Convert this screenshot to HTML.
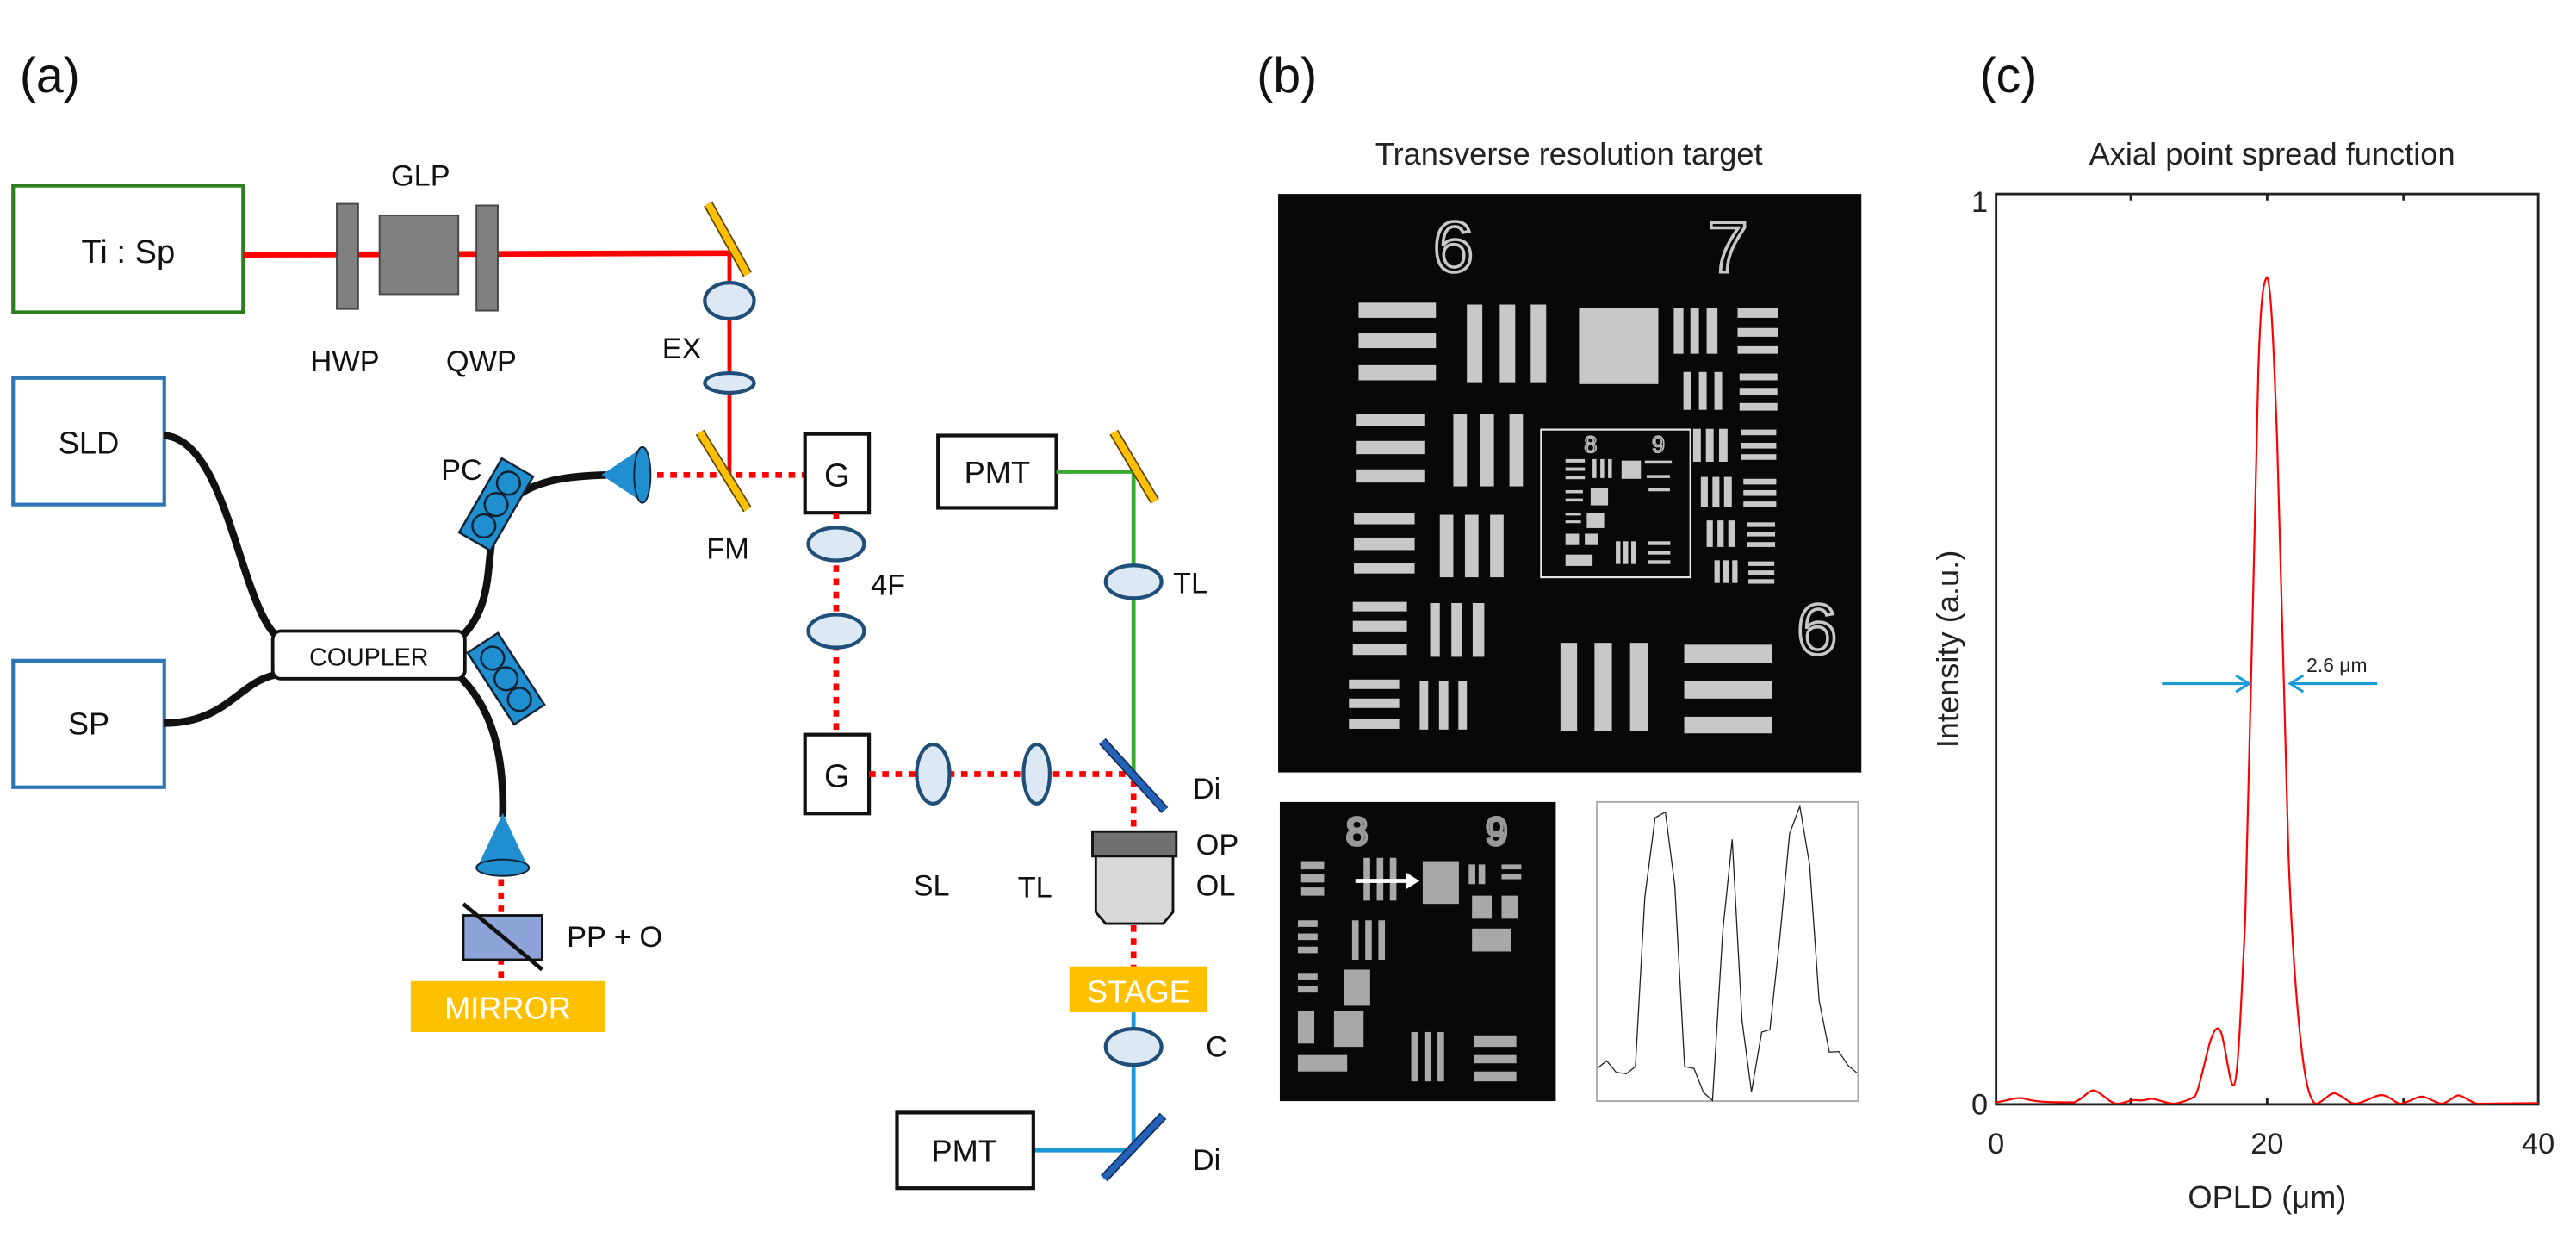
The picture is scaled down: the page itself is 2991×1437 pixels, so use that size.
<!DOCTYPE html>
<html><head><meta charset="utf-8"><style>
html,body{margin:0;padding:0;background:#fff;}
svg{display:block;}
text{font-family:"Liberation Sans","DejaVu Sans",sans-serif;}
</style></head><body>
<svg width="2991" height="1437" viewBox="0 0 1568 753.3" xmlns="http://www.w3.org/2000/svg">
<rect width="1568" height="754" fill="#fff"/>
<!-- ===== Panel a ===== -->
<text x="12" y="56" font-size="30" fill="#111">(a)</text>
<rect x="8" y="113" width="140" height="77" fill="none" stroke="#2e7d1e" stroke-width="2.2"/>
<text x="78" y="160" font-size="20" text-anchor="middle" fill="#111">Ti : Sp</text>
<line x1="148" y1="155" x2="444" y2="154" stroke="#ff0000" stroke-width="3.5"/>
<rect x="205" y="124" width="13" height="64" fill="#808080" stroke="#444" stroke-width="1"/>
<rect x="231" y="131" width="48" height="48" fill="#808080" stroke="#444" stroke-width="1"/>
<rect x="290" y="125" width="13" height="64" fill="#808080" stroke="#444" stroke-width="1"/>
<text x="256" y="113" font-size="18" text-anchor="middle" fill="#111">GLP</text>
<text x="210" y="226" font-size="18" text-anchor="middle" fill="#111">HWP</text>
<text x="293" y="226" font-size="18" text-anchor="middle" fill="#111">QWP</text>
<line x1="444" y1="154" x2="444" y2="289" stroke="#ff0000" stroke-width="2.5"/>
<line x1="431" y1="124" x2="455" y2="167" stroke="#5a4300" stroke-width="6"/>
<line x1="431" y1="124" x2="455" y2="167" stroke="#ffc000" stroke-width="4.2"/>
<ellipse cx="444" cy="183" rx="15" ry="11" fill="#dce9f5" stroke="#1f4e79" stroke-width="2.2"/>
<ellipse cx="444" cy="233" rx="15" ry="6" fill="#dce9f5" stroke="#1f4e79" stroke-width="2.2"/>
<text x="415" y="218" font-size="18" text-anchor="middle" fill="#111">EX</text>
<line x1="392" y1="289" x2="490" y2="289" stroke="#ff0000" stroke-width="3.5" stroke-dasharray="4,4"/>
<line x1="426" y1="263" x2="455" y2="310" stroke="#5a4300" stroke-width="6"/>
<line x1="426" y1="263" x2="455" y2="310" stroke="#ffc000" stroke-width="4.2"/>
<text x="443" y="340" font-size="18" text-anchor="middle" fill="#111">FM</text>
<rect x="490" y="264" width="39" height="48" fill="#fff" stroke="#111" stroke-width="2.2"/>
<text x="509.5" y="296" font-size="20" text-anchor="middle" fill="#111">G</text>
<line x1="509" y1="312" x2="509" y2="447" stroke="#ff0000" stroke-width="3.5" stroke-dasharray="4,4"/>
<ellipse cx="509" cy="331" rx="17" ry="10" fill="#dce9f5" stroke="#1f4e79" stroke-width="2.2"/>
<ellipse cx="509" cy="384" rx="17" ry="10" fill="#dce9f5" stroke="#1f4e79" stroke-width="2.2"/>
<text x="530" y="362" font-size="18" fill="#111">4F</text>
<rect x="490" y="447" width="39" height="48" fill="#fff" stroke="#111" stroke-width="2.2"/>
<text x="509.5" y="479" font-size="20" text-anchor="middle" fill="#111">G</text>
<line x1="529" y1="471" x2="690" y2="471" stroke="#ff0000" stroke-width="3.5" stroke-dasharray="4,4"/>
<ellipse cx="568" cy="471" rx="10" ry="18" fill="#dce9f5" stroke="#1f4e79" stroke-width="2.2"/>
<ellipse cx="631" cy="471" rx="8" ry="18" fill="#dce9f5" stroke="#1f4e79" stroke-width="2.2"/>
<text x="567" y="545" font-size="18" text-anchor="middle" fill="#111">SL</text>
<text x="630" y="546" font-size="18" text-anchor="middle" fill="#111">TL</text>
<rect x="571" y="265" width="72" height="44" fill="#fff" stroke="#111" stroke-width="2.2"/>
<text x="607" y="294" font-size="19" text-anchor="middle" fill="#111">PMT</text>
<line x1="643" y1="287" x2="690" y2="287" stroke="#3aaa35" stroke-width="2.5"/>
<line x1="690" y1="287" x2="690" y2="471" stroke="#3aaa35" stroke-width="2.5"/>
<line x1="678" y1="263" x2="703" y2="305" stroke="#5a4300" stroke-width="6"/>
<line x1="678" y1="263" x2="703" y2="305" stroke="#ffc000" stroke-width="4.2"/>
<ellipse cx="690" cy="354" rx="17" ry="10" fill="#dce9f5" stroke="#1f4e79" stroke-width="2.2"/>
<text x="714" y="361" font-size="18" fill="#111">TL</text>
<line x1="690" y1="475" x2="690" y2="506" stroke="#ff0000" stroke-width="3.5" stroke-dasharray="4,4"/>
<line x1="671" y1="451" x2="709" y2="493" stroke="#0f2a55" stroke-width="5.5"/>
<line x1="671" y1="451" x2="709" y2="493" stroke="#2461b8" stroke-width="3.8"/>
<text x="726" y="486" font-size="18" fill="#111">Di</text>
<rect x="665" y="506" width="51" height="15" fill="#707070" stroke="#111" stroke-width="1.5"/>
<path d="M667,521 L714,521 L714,555 L708,562 L673,562 L667,555 Z" fill="#d9d9d9" stroke="#111" stroke-width="1.5"/>
<text x="728" y="520" font-size="18" fill="#111">OP</text>
<text x="728" y="545" font-size="18" fill="#111">OL</text>
<line x1="690" y1="563" x2="690" y2="588" stroke="#ff0000" stroke-width="3.5" stroke-dasharray="4,4"/>
<rect x="651" y="588" width="84" height="28" fill="#ffc000"/>
<text x="693" y="610" font-size="19" text-anchor="middle" fill="#fff">STAGE</text>
<line x1="690" y1="616" x2="690" y2="701" stroke="#1a9ad6" stroke-width="2.5"/>
<ellipse cx="690" cy="637" rx="17" ry="11" fill="#dce9f5" stroke="#1f4e79" stroke-width="2.2"/>
<text x="734" y="643" font-size="18" fill="#111">C</text>
<line x1="628" y1="700" x2="690" y2="700" stroke="#1a9ad6" stroke-width="2.5"/>
<line x1="672" y1="717" x2="708" y2="679" stroke="#0f2a55" stroke-width="5.5"/>
<line x1="672" y1="717" x2="708" y2="679" stroke="#2461b8" stroke-width="3.8"/>
<text x="726" y="712" font-size="18" fill="#111">Di</text>
<rect x="546" y="677" width="83" height="46" fill="#fff" stroke="#111" stroke-width="2.2"/>
<text x="587" y="707" font-size="19" text-anchor="middle" fill="#111">PMT</text>
<rect x="8" y="230" width="92" height="77" fill="none" stroke="#2e75b6" stroke-width="2.2"/>
<text x="54" y="276" font-size="19" text-anchor="middle" fill="#111">SLD</text>
<rect x="8" y="402" width="92" height="77" fill="none" stroke="#2e75b6" stroke-width="2.2"/>
<text x="54" y="447" font-size="19" text-anchor="middle" fill="#111">SP</text>
<g fill="none" stroke="#111" stroke-width="4.5">
<path d="M100,265 C140,268 146,375 172,390"/>
<path d="M100,440 C140,440 146,412 172,410"/>
<path d="M278,390 C300,372 296,345 300,325 C308,295 335,290 369,289"/>
<path d="M278,410 C300,430 307,460 306,497"/>
</g>
<rect x="166" y="384" width="117" height="29" rx="5" fill="#fff" stroke="#111" stroke-width="2"/>
<text x="224.5" y="405" font-size="15" text-anchor="middle" fill="#111">COUPLER</text>
<g transform="translate(302,307) rotate(30)">
<rect x="-11" y="-26" width="22" height="52" fill="#1f8fd0" stroke="#123" stroke-width="1.3"/>
<circle cx="0" cy="-15" r="7" fill="#1f8fd0" stroke="#123" stroke-width="1.3"/>
<circle cx="0" cy="0" r="7" fill="#1f8fd0" stroke="#123" stroke-width="1.3"/>
<circle cx="0" cy="15" r="7" fill="#1f8fd0" stroke="#123" stroke-width="1.3"/>
</g>
<text x="281" y="292" font-size="18" text-anchor="middle" fill="#111">PC</text>
<g transform="translate(308,413) rotate(-33)">
<rect x="-11" y="-26" width="22" height="52" fill="#1f8fd0" stroke="#123" stroke-width="1.3"/>
<circle cx="0" cy="-15" r="7" fill="#1f8fd0" stroke="#123" stroke-width="1.3"/>
<circle cx="0" cy="0" r="7" fill="#1f8fd0" stroke="#123" stroke-width="1.3"/>
<circle cx="0" cy="15" r="7" fill="#1f8fd0" stroke="#123" stroke-width="1.3"/>
</g>
<path d="M367,289 L391,273 L391,305 Z" fill="#1f8fd0" stroke="#1f8fd0"/>
<ellipse cx="391" cy="289" rx="5" ry="17" fill="#1f8fd0" stroke="#123" stroke-width="1"/>
<path d="M306,496 L291,528 L321,528 Z" fill="#1f8fd0" stroke="#1f8fd0"/>
<ellipse cx="306" cy="528" rx="16" ry="5" fill="#1f8fd0" stroke="#123" stroke-width="1"/>
<line x1="305" y1="535" x2="305" y2="597" stroke="#ff0000" stroke-width="3.5" stroke-dasharray="4,4"/>
<rect x="282" y="557" width="48" height="27" fill="#8ea3d8" stroke="#111" stroke-width="1.5"/>
<line x1="282" y1="550" x2="330" y2="590" stroke="#111" stroke-width="2.5"/>
<text x="345" y="576" font-size="18" fill="#111">PP + O</text>
<rect x="250" y="597" width="118" height="31" fill="#ffc000"/>
<text x="309" y="620" font-size="19" text-anchor="middle" fill="#fff">MIRROR</text>

<!-- ===== Panel b ===== -->
<text x="765" y="56" font-size="30" fill="#111">(b)</text>
<text x="955" y="100" font-size="19" text-anchor="middle" fill="#222">Transverse resolution target</text>
<rect x="778" y="118" width="355" height="352" fill="#080808"/>
<g transform="translate(778,118) scale(0.2354,0.2305) translate(-12,-18)" fill="#c8c8c8">
<text x="465" y="222" font-size="190" text-anchor="middle" fill="none" stroke="#c8c8c8" stroke-width="8">6</text>
<text x="1175" y="225" font-size="190" text-anchor="middle" fill="none" stroke="#c8c8c8" stroke-width="8">7</text>
<text x="1405" y="1232" font-size="190" text-anchor="middle" fill="none" stroke="#c8c8c8" stroke-width="8">6</text>
<rect x="220" y="305" width="200" height="40"/><rect x="220" y="385" width="200" height="40"/><rect x="220" y="470" width="200" height="40"/>
<rect x="500" y="310" width="40" height="205"/><rect x="585" y="310" width="40" height="205"/><rect x="665" y="310" width="40" height="205"/>
<rect x="790" y="318" width="205" height="202"/>
<rect x="1035" y="320" width="25" height="120"/><rect x="1078" y="320" width="22" height="120"/><rect x="1120" y="320" width="28" height="120"/>
<rect x="1200" y="320" width="105" height="25"/><rect x="1200" y="372" width="105" height="23"/><rect x="1200" y="420" width="105" height="20"/>
<rect x="1060" y="488" width="20" height="100"/><rect x="1100" y="488" width="20" height="100"/><rect x="1140" y="488" width="20" height="100"/>
<rect x="1205" y="492" width="98" height="18"/><rect x="1205" y="530" width="98" height="20"/><rect x="1205" y="570" width="98" height="20"/>
<rect x="1085" y="638" width="20" height="87"/><rect x="1118" y="638" width="20" height="87"/><rect x="1152" y="638" width="22" height="87"/>
<rect x="1210" y="640" width="90" height="15"/><rect x="1210" y="675" width="90" height="15"/><rect x="1210" y="705" width="90" height="15"/>
<rect x="1105" y="765" width="18" height="80"/><rect x="1135" y="765" width="18" height="80"/><rect x="1165" y="765" width="20" height="80"/>
<rect x="1215" y="770" width="85" height="15"/><rect x="1215" y="800" width="85" height="15"/><rect x="1215" y="830" width="85" height="15"/>
<rect x="1120" y="880" width="16" height="70"/><rect x="1148" y="880" width="16" height="70"/><rect x="1176" y="880" width="18" height="70"/>
<rect x="1225" y="885" width="72" height="12"/><rect x="1225" y="910" width="72" height="12"/><rect x="1225" y="937" width="72" height="13"/>
<rect x="1140" y="985" width="14" height="60"/><rect x="1163" y="985" width="14" height="60"/><rect x="1186" y="985" width="14" height="60"/>
<rect x="1228" y="988" width="67" height="12"/><rect x="1228" y="1012" width="67" height="12"/><rect x="1228" y="1035" width="67" height="12"/>
<rect x="215" y="600" width="175" height="30"/><rect x="215" y="670" width="175" height="35"/><rect x="215" y="745" width="175" height="35"/>
<rect x="465" y="600" width="35" height="190"/><rect x="535" y="600" width="35" height="190"/><rect x="610" y="600" width="35" height="190"/>
<rect x="208" y="860" width="157" height="30"/><rect x="208" y="925" width="157" height="33"/><rect x="208" y="992" width="157" height="28"/>
<rect x="430" y="865" width="35" height="165"/><rect x="495" y="865" width="35" height="165"/><rect x="560" y="865" width="35" height="165"/>
<rect x="205" y="1095" width="140" height="25"/><rect x="205" y="1145" width="140" height="30"/><rect x="205" y="1205" width="140" height="30"/>
<rect x="405" y="1098" width="25" height="142"/><rect x="460" y="1098" width="28" height="142"/><rect x="515" y="1098" width="30" height="142"/>
<rect x="195" y="1300" width="130" height="25"/><rect x="195" y="1350" width="130" height="25"/><rect x="195" y="1405" width="130" height="25"/>
<rect x="378" y="1305" width="22" height="127"/><rect x="428" y="1305" width="24" height="127"/><rect x="478" y="1305" width="22" height="127"/>
<rect x="742" y="1203" width="43" height="232"/><rect x="830" y="1203" width="45" height="232"/><rect x="922" y="1203" width="46" height="232"/>
<rect x="1062" y="1208" width="226" height="47"/><rect x="1062" y="1305" width="226" height="45"/><rect x="1062" y="1398" width="226" height="44"/>
<rect x="692" y="640" width="386" height="390" fill="none" stroke="#e8e8e8" stroke-width="5"/>
<text x="820" y="700" font-size="60" text-anchor="middle" fill="none" stroke="#bbb" stroke-width="4">8</text>
<text x="995" y="700" font-size="60" text-anchor="middle" fill="none" stroke="#bbb" stroke-width="4">9</text>
<rect x="755" y="718" width="50" height="9"/><rect x="755" y="740" width="50" height="9"/><rect x="755" y="762" width="50" height="9"/>
<rect x="825" y="718" width="10" height="50"/><rect x="845" y="718" width="10" height="50"/><rect x="865" y="718" width="10" height="50"/>
<rect x="900" y="722" width="50" height="48"/>
<rect x="960" y="722" width="70" height="8"/><rect x="965" y="760" width="60" height="8"/><rect x="970" y="795" width="55" height="8"/>
<rect x="755" y="800" width="45" height="8"/><rect x="755" y="822" width="45" height="8"/><rect x="820" y="795" width="45" height="45"/>
<rect x="755" y="860" width="40" height="7"/><rect x="755" y="880" width="40" height="7"/><rect x="810" y="860" width="45" height="40"/>
<rect x="755" y="915" width="35" height="30"/><rect x="805" y="915" width="35" height="30"/>
<rect x="755" y="970" width="70" height="30"/>
<rect x="885" y="935" width="12" height="60"/><rect x="905" y="935" width="12" height="60"/><rect x="925" y="935" width="12" height="60"/>
<rect x="968" y="935" width="58" height="10"/><rect x="968" y="960" width="58" height="10"/><rect x="968" y="985" width="58" height="10"/>
</g>
<rect x="779" y="488" width="168" height="182" fill="#080808"/>
<g fill="#a8a8a8">
<text x="826" y="514" font-size="24" text-anchor="middle" fill="none" stroke="#999" stroke-width="2">8</text>
<text x="911" y="514" font-size="24" text-anchor="middle" fill="none" stroke="#999" stroke-width="2">9</text>
<rect x="792" y="524" width="14" height="5"/><rect x="792" y="532" width="14" height="5"/><rect x="792" y="540" width="14" height="5"/>
<rect x="830" y="522" width="4" height="26"/><rect x="838" y="522" width="4" height="26"/><rect x="846" y="522" width="4" height="26"/>
<rect x="866" y="524" width="22" height="26"/>
<rect x="894" y="526" width="4" height="12"/><rect x="900" y="526" width="4" height="12"/><rect x="914" y="526" width="12" height="3"/><rect x="914" y="532" width="12" height="3"/>
<rect x="896" y="545" width="12" height="14"/><rect x="914" y="545" width="10" height="14"/>
<rect x="896" y="565" width="24" height="14"/>
<rect x="790" y="560" width="12" height="4"/><rect x="790" y="568" width="12" height="4"/><rect x="790" y="576" width="12" height="4"/>
<rect x="823" y="560" width="4" height="24"/><rect x="831" y="560" width="4" height="24"/><rect x="839" y="560" width="4" height="24"/>
<rect x="790" y="592" width="12" height="4"/><rect x="790" y="600" width="12" height="4"/><rect x="818" y="590" width="16" height="22"/>
<rect x="790" y="615" width="10" height="20"/><rect x="812" y="615" width="18" height="22"/>
<rect x="790" y="642" width="30" height="10"/>
<rect x="859" y="628" width="4" height="30"/><rect x="867" y="628" width="4" height="30"/><rect x="875" y="628" width="4" height="30"/>
<rect x="897" y="630" width="26" height="7"/><rect x="897" y="642" width="26" height="5"/><rect x="897" y="652" width="26" height="6"/>
</g>
<line x1="825" y1="536" x2="858" y2="536" stroke="#fff" stroke-width="2.5"/>
<path d="M856,531 L864,536 L856,541 Z" fill="#fff"/>
<rect x="972" y="488" width="159" height="182" fill="#fff" stroke="#aaa" stroke-width="1"/>
<g transform="translate(972,488) scale(0.2496,0.175) translate(-638,-110)">
<polyline fill="none" stroke="#222" stroke-width="1.3" vector-effect="non-scaling-stroke" points="640,1035 662,1010 685,1050 710,1055 732,1030 755,440 780,165 805,145 828,400 852,1030 875,1037 898,1120 920,1148 945,560 968,240 992,870 1015,1118 1040,910 1060,902 1085,570 1108,220 1133,125 1157,330 1180,800 1205,980 1228,978 1250,1025 1273,1053"/>
</g>

<!-- ===== Panel c ===== -->
<text x="1205" y="56" font-size="30" fill="#111">(c)</text>
<text x="1383" y="100" font-size="19" text-anchor="middle" fill="#222">Axial point spread function</text>
<rect x="1215" y="118" width="330" height="554" fill="none" stroke="#222" stroke-width="1.5"/>
<g stroke="#222" stroke-width="1.5">
<line x1="1297" y1="118" x2="1297" y2="122"/><line x1="1380" y1="118" x2="1380" y2="122"/><line x1="1463" y1="118" x2="1463" y2="122"/>
<line x1="1297" y1="672" x2="1297" y2="668"/><line x1="1380" y1="672" x2="1380" y2="668"/><line x1="1463" y1="672" x2="1463" y2="668"/>
</g>
<text x="1210" y="129" font-size="18" text-anchor="end" fill="#222">1</text>
<text x="1210" y="678" font-size="18" text-anchor="end" fill="#222">0</text>
<text x="1215" y="702" font-size="18" text-anchor="middle" fill="#222">0</text>
<text x="1380" y="702" font-size="18" text-anchor="middle" fill="#222">20</text>
<text x="1545" y="702" font-size="18" text-anchor="middle" fill="#222">40</text>
<text x="1380" y="735" font-size="19" text-anchor="middle" fill="#222">OPLD (μm)</text>
<text transform="translate(1192,395) rotate(-90)" font-size="19" text-anchor="middle" fill="#222">Intensity (a.u.)</text>
<g transform="translate(1215,118) scale(0.2287,0.4178) translate(-72,-42)">
<path fill="none" stroke="#ff0000" stroke-width="2.2" vector-effect="non-scaling-stroke" stroke-linejoin="round" d="M72,1365 C110,1362 130,1356 150,1360 C175,1364 200,1365 280,1365 C305,1360 320,1345 335,1348 C355,1352 375,1367 395,1367 C420,1366 430,1360 450,1362 C470,1364 480,1358 490,1360 C515,1363 530,1367 545,1367 C570,1365 590,1360 600,1357 C610,1352 625,1310 640,1280 C652,1258 662,1250 672,1265 C685,1290 695,1345 705,1340 C715,1335 722,1250 735,1100 C745,950 758,550 770,300 C776,200 782,170 793,163 C803,170 810,250 820,400 C830,560 840,820 850,1000 C860,1150 880,1290 900,1340 C910,1362 918,1367 925,1367 C945,1364 960,1350 975,1352 C995,1355 1010,1367 1030,1367 C1060,1364 1085,1352 1105,1355 C1125,1358 1135,1367 1150,1367 C1175,1364 1195,1355 1210,1357 C1230,1360 1245,1367 1260,1367 C1280,1364 1295,1353 1305,1355 C1325,1358 1340,1367 1355,1367 L1515,1366"/>
</g>
<g stroke="#1a9ad6" stroke-width="1.6" fill="none">
<line x1="1316" y1="416" x2="1369" y2="416"/>
<polyline points="1361,411 1369,416 1361,421"/>
<line x1="1447" y1="416" x2="1394" y2="416"/>
<polyline points="1402,411 1394,416 1402,421"/>
</g>
<text x="1404" y="409" font-size="12" fill="#222">2.6 μm</text>
</svg>
</body></html>
